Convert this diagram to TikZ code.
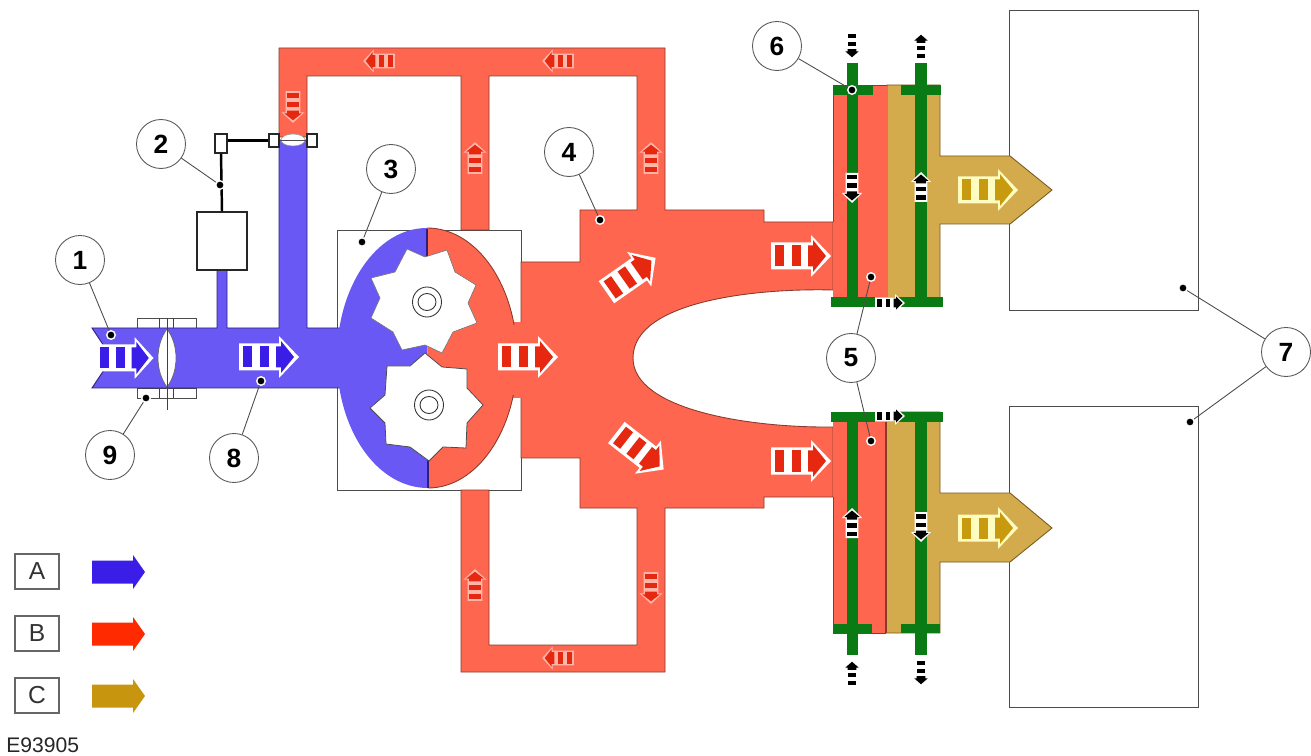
\documentclass[tikz,border=0pt]{standalone}
\usepackage{fontspec}
\setmainfont{Liberation Sans}
\definecolor{pipeblue}{HTML}{6A58F4}
\definecolor{pipered}{HTML}{FF6650}
\definecolor{pipetan}{HTML}{D4AB4C}
\definecolor{coolgreen}{HTML}{0A7A14}
\definecolor{edgered}{HTML}{8A3A2A}
\definecolor{edgeblue}{HTML}{2A2080}
\definecolor{edgetan}{HTML}{7A5A20}
\definecolor{barblue}{HTML}{3A1EE8}
\definecolor{barred}{HTML}{E62810}
\definecolor{bartan}{HTML}{C89A10}
\definecolor{pinkgap}{HTML}{FFB5A8}
\definecolor{legblue}{HTML}{3A1EE8}
\definecolor{legred}{HTML}{FF2A00}
\definecolor{leggold}{HTML}{C8950F}
\tikzset{
  callout/.style={circle,draw=black!65,fill=white,line width=.5pt,minimum size=0.98cm,inner sep=0pt,font=\fontsize{15}{15}\selectfont\bfseries},
  leaddot/.style={circle,fill=black,draw=white,line width=.8pt,minimum size=0.17cm,inner sep=0pt},
  leader/.style={draw=black!70,line width=.5pt},
  thinbox/.style={draw=black!70,line width=.5pt,fill=white},
  legendbox/.style={draw=black!60,line width=.6pt,minimum width=0.88cm,minimum height=0.7cm,inner sep=0pt,font=\fontsize{14}{14}\selectfont,text=black!80},
  linkage/.style={draw=black,line width=1.4pt},
  darkbox/.style={draw=black!85,line width=.6pt,fill=white,inner sep=0pt}
}
% x, y, rotation, xscale, yscale, bar colour, gap colour
\newcommand\flowarrow[7]{%
  \begin{scope}[shift={(#1,#2)},rotate=#3,xscale=#4,yscale=#5]
    \fill[#7] (-30,-13.5) -- (10,-13.5) -- (10,-21) -- (30,0) -- (10,21) -- (10,13.5) -- (-30,13.5) -- cycle;
    \fill[#6] (-26,-10.5) rectangle (-17,10.5);
    \fill[#6] (-9,-10.5) rectangle (0,10.5);
    \fill[#6] (7,-10.5) -- (12,-10.5) -- (12,-16) -- (25,0) -- (12,16) -- (12,10.5) -- (7,10.5) -- cycle;
  \end{scope}}
\newcommand\legarrow[2]{%
  \fill[#2] (92,#1-11.5) -- (133,#1-11.5) -- (133,#1-17) -- (145,#1) -- (133,#1+17) -- (133,#1+11.5) -- (92,#1+11.5) -- cycle;}
\begin{document}
\begin{tikzpicture}[x=0.02cm,y=-0.02cm]
\useasboundingbox (0,0) rectangle (1311,756);
\fill[white] (0,0) rectangle (1311,756);

% engine boxes
\draw[thinbox] (1009,10) rectangle (1198,310);
\draw[thinbox] (1009,406) rectangle (1198,707);

% pump housing
\draw[thinbox] (337,230) rectangle (521,490);

% throttle 1 housing
\draw[thinbox] (137,318) rectangle (196,328);
\draw[thinbox] (137,388) rectangle (196,398);

% charge-air side (red)
\draw[fill=pipered,draw=edgered,line width=.5pt]
  (279,137) -- (279,48) -- (665,48) -- (665,210) -- (764,210) -- (764,222) -- (833,222) -- (833,290)
  .. controls (760,288) and (633,300) .. (633,358)
  .. controls (633,410) and (750,428) .. (833,427)
  -- (833,497) -- (764,497) -- (764,508) -- (665,508) -- (665,672) -- (461,672) -- (461,490) -- (489,490)
  -- (489,645) -- (637,645) -- (637,508) -- (580,508) -- (580,458) -- (521,458) -- (521,395) -- (510,395)
  -- (510,325) -- (521,325) -- (521,262) -- (580,262) -- (580,210) -- (637,210) -- (637,76) -- (489,76)
  -- (489,230) -- (461,230) -- (461,76) -- (307,76) -- (307,137) -- cycle;
\fill[pipered] (505,322) rectangle (530,398);

% inlet side (blue)
\draw[fill=pipeblue,draw=edgeblue,line width=.5pt]
  (92,328) -- (217,328) -- (217,270) -- (227,270) -- (227,328) -- (279,328) -- (279,140) -- (307,140)
  -- (307,328) -- (345,328) -- (345,388) -- (92,388) -- (112,358) -- cycle;
\fill[pipeblue] (335,329) rectangle (350,387);

% pump body
\fill[pipeblue] (427,228) .. controls (377,228) and (337,286) .. (337,358)
  .. controls (337,430) and (377,488) .. (428,488) -- cycle;
\fill[pipered] (427,228) .. controls (477,228) and (517,286) .. (517,358)
  .. controls (517,430) and (477,488) .. (428,488) -- cycle;
\begin{scope}
  \clip (427,220) rectangle (530,325) (427,395) rectangle (530,500);
  \draw[edgered,line width=.5pt] (427,228) .. controls (477,228) and (517,286) .. (517,358)
    .. controls (517,430) and (477,488) .. (428,488);
\end{scope}
\draw[edgeblue,line width=.7pt] (427,229) -- (427,256);
\draw[edgeblue,line width=.7pt] (428,460) -- (428,488);

% gears
\draw[fill=white,draw=black!55,line width=.35pt]
  (407,249) -- (425,257) -- (447,250) -- (455,272) -- (476,285) -- (468,303) -- (477,323) -- (453,332)
  -- (442,353) -- (425,345) -- (402,350) -- (393,332) -- (371,318) -- (380,298) -- (371,278) -- (395,272) -- cycle;
\draw[fill=white,draw=black!70,line width=.45pt]
  (425,353) -- (442,367) -- (467,369) -- (467,388) -- (483,405) -- (467,423) -- (466,448) -- (443,447)
  -- (429,461) -- (410,447) -- (386,444) -- (385,423) -- (370,408) -- (385,395) -- (387,366) -- (410,366) -- cycle;
\draw[black!80,line width=.5pt] (427,302) ellipse (14.5 and 15);
\draw[black!80,line width=.5pt] (427,302) ellipse (9 and 8.5);
\draw[black!80,line width=.5pt] (429,405) ellipse (14.5 and 15);
\draw[black!80,line width=.5pt] (429,405) ellipse (9 and 8.5);

% throttle 1
\draw[black!75,line width=.5pt] (159,318) -- (159,328) (173,318) -- (173,328) (159,388) -- (159,398) (173,388) -- (173,398);
\draw[fill=white,draw=black!60,line width=.4pt] (167,329) .. controls (179,345) and (179,371) .. (167,387)
  .. controls (155,371) and (155,345) .. (167,329) -- cycle;
\draw[black!75,line width=.5pt] (167,318) -- (167,410);

% intercooler, upper
\draw[fill=pipetan,draw=edgetan,line width=.5pt] (887,85) -- (940,85) -- (940,156) -- (1010,156) -- (1052,190) -- (1010,224) -- (940,224) -- (940,303) -- (887,303) -- cycle;
\fill[pipered] (833,85) rectangle (887,303);
\draw[edgered,line width=.5pt] (833,222) -- (833,85) -- (887,85);
\fill[coolgreen] (847,63) rectangle (858,303);
\fill[coolgreen] (915,63) rectangle (927,303);
\fill[coolgreen] (833,85) rectangle (873,95);
\fill[coolgreen] (901,85) rectangle (941,95);
\fill[coolgreen] (831,297) rectangle (943,307);

% intercooler, lower
\draw[fill=pipetan,draw=edgetan,line width=.5pt] (886,412) -- (940,412) -- (940,493) -- (1010,493) -- (1052,528) -- (1010,562) -- (940,562) -- (940,633) -- (886,633) -- cycle;
\fill[pipered] (833,412) rectangle (886,633);
\draw[edgered,line width=.5pt] (833,497) -- (833,633) -- (886,633);
\draw[edgered,line width=.6pt] (886,412) -- (886,633);
\fill[coolgreen] (847,412) rectangle (858,655);
\fill[coolgreen] (915,412) rectangle (927,655);
\fill[coolgreen] (831,412) rectangle (943,422);
\fill[coolgreen] (833,624) rectangle (872,633);
\fill[coolgreen] (901,624) rectangle (940,633);

% flow arrows
\flowarrow{125}{358}{0}{.95}{1}{barblue}{white}
\flowarrow{269}{357}{0}{1}{1}{barblue}{white}
\flowarrow{528}{357}{0}{1}{1}{barred}{white}
\flowarrow{631}{275}{35}{1}{1}{barred}{white}
\flowarrow{640}{451}{-38}{1}{1}{barred}{white}
\flowarrow{801}{256}{0}{1}{1}{barred}{white}
\flowarrow{801}{461}{0}{1}{1}{barred}{white}
\flowarrow{988}{190}{0}{1}{1}{bartan}{white!75!yellow}
\flowarrow{988}{528}{0}{1}{1}{bartan}{white!75!yellow}
\flowarrow{379}{61}{180}{.53}{.55}{barred}{pinkgap}
\flowarrow{558}{61}{180}{.53}{.55}{barred}{pinkgap}
\flowarrow{293}{107}{-90}{.53}{.55}{barred}{pinkgap}
\flowarrow{475}{158}{90}{.53}{.55}{barred}{pinkgap}
\flowarrow{651}{158}{90}{.53}{.55}{barred}{pinkgap}
\flowarrow{475}{585}{90}{.53}{.55}{barred}{pinkgap}
\flowarrow{651}{588}{-90}{.53}{.55}{barred}{pinkgap}
\flowarrow{558}{658}{180}{.53}{.55}{barred}{pinkgap}
\flowarrow{852}{46}{-90}{.45}{.42}{black}{white}
\flowarrow{921}{46}{90}{.45}{.42}{black}{white}
\flowarrow{852}{188}{-90}{.5}{.48}{black}{white}
\flowarrow{921}{187}{90}{.5}{.48}{black}{white}
\flowarrow{890}{303}{0}{.5}{.42}{black}{white}
\flowarrow{890}{416}{0}{.5}{.42}{black}{white}
\flowarrow{852}{523}{90}{.5}{.48}{black}{white}
\flowarrow{921}{527}{-90}{.5}{.48}{black}{white}
\flowarrow{852}{673}{90}{.45}{.42}{black}{white}
\flowarrow{921}{673}{-90}{.45}{.42}{black}{white}

% throttle 2 and its actuator
\node[darkbox,minimum width=1cm,minimum height=1.16cm] (actuator) at (222,241) {};
\node[darkbox,minimum width=0.24cm,minimum height=0.38cm] (lever) at (221,143.5) {};
\node[darkbox,minimum width=0.2cm,minimum height=0.26cm] (tleft) at (274,140.5) {};
\node[darkbox,minimum width=0.2cm,minimum height=0.26cm] (tright) at (312,140.5) {};
\draw[fill=white,draw=black!40,line width=.3pt] (293,134) .. controls (300,134) and (305,137) .. (305,140)
  .. controls (305,143) and (300,146) .. (293,146) .. controls (286,146) and (281,143) .. (281,140)
  .. controls (281,137) and (286,134) .. (293,134) -- cycle;
\draw[linkage] (lever.south) -- (actuator.north);
\draw[linkage] (lever.east |- tleft.west) -- (tleft.west);
\draw[black!70,line width=.5pt] (tleft.east) -- (tright.west);

% legend
\node[legendbox] (ka) at (37,571.5) {A};
\node[legendbox] (kb) at (37,633.5) {B};
\node[legendbox] (kc) at (37,695.5) {C};
\legarrow{572}{legblue}
\legarrow{634}{legred}
\legarrow{696}{leggold}
\node[anchor=west,inner sep=0pt,font=\fontsize{12}{12}\selectfont,text=black!85] (code) at (6,745) {E93905};

% callouts
\node[leaddot] (d1) at (111,335) {};
\node[leaddot] (d2) at (220,185) {};
\node[leaddot] (d3) at (362,242) {};
\node[leaddot] (d4) at (600,220) {};
\node[leaddot] (d5a) at (871,277) {};
\node[leaddot] (d5b) at (871,441) {};
\node[leaddot] (d6) at (852,90) {};
\node[leaddot] (d7a) at (1183,288) {};
\node[leaddot] (d7b) at (1190,422) {};
\node[leaddot] (d8) at (261,381) {};
\node[leaddot] (d9) at (146,398) {};
\node[callout] (c1) at (80,260) {1};
\node[callout] (c2) at (161,144) {2};
\node[callout] (c3) at (391,169) {3};
\node[callout] (c4) at (569,152) {4};
\node[callout] (c5) at (851,358) {5};
\node[callout] (c6) at (777,46) {6};
\node[callout] (c7) at (1286,352) {7};
\node[callout] (c8) at (234,458) {8};
\node[callout] (c9) at (110,455) {9};
\draw[leader] (c1) -- (d1);
\draw[leader] (c2) -- (d2);
\draw[leader] (c3) -- (d3);
\draw[leader] (c4) -- (d4);
\draw[leader] (c5) -- (d5a);
\draw[leader] (c5) -- (d5b);
\draw[leader] (c6) -- (d6);
\draw[leader] (c7) -- (d7a);
\draw[leader] (c7) -- (d7b);
\draw[leader] (c8) -- (d8);
\draw[leader] (c9) -- (d9);
\end{tikzpicture}
\end{document}
